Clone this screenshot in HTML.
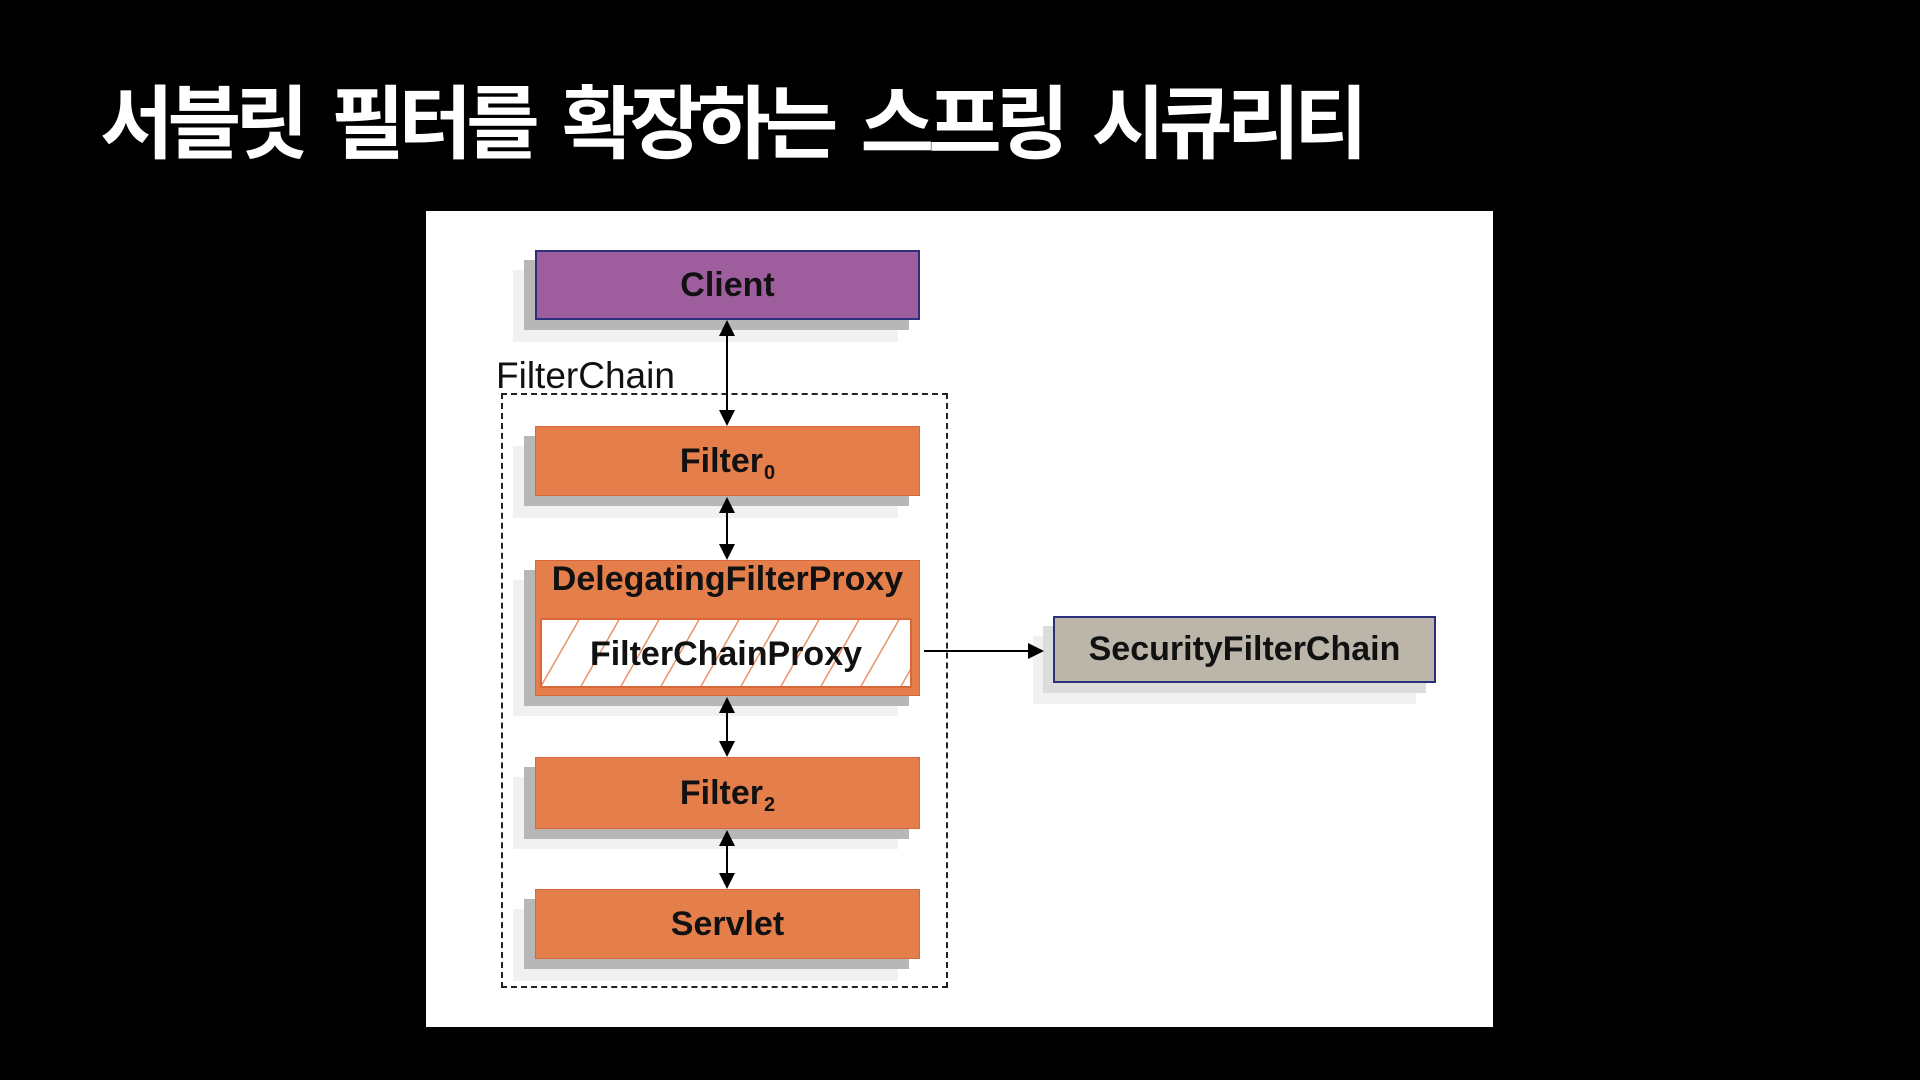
<!DOCTYPE html>
<html><head><meta charset="utf-8"><style>
html,body{margin:0;padding:0;background:#000;width:1920px;height:1080px;overflow:hidden}
.t{position:absolute;left:100px;top:78px;color:#fff;font:bold 80px "Noto Sans CJK KR","NanumGothic",sans-serif;letter-spacing:-6px;word-spacing:16px;white-space:pre;line-height:1}
.panel{position:absolute;left:426px;top:211px;width:1067px;height:816px;background:#fff}
.b{position:absolute;box-sizing:border-box;font:bold 34px "Liberation Sans",sans-serif;color:#111;display:flex;align-items:center;justify-content:center}
.sh1{position:absolute;background:#b7b7b7}
.sh2{position:absolute;background:#f1f1f1}
.o{background:#e47f4b;border:1px solid #d9673a}
.s{font-size:20px;position:relative;top:12px;margin-left:1px}
</style></head><body>
<div class="t">서블릿 필터를 확장하는 스프링 시큐리티</div>
<div class="panel"></div>
<div class="sh2" style="left:513px;top:270px;width:385px;height:72px"></div>
<div class="sh1" style="left:524px;top:260px;width:385px;height:70px"></div>
<div class="sh2" style="left:513px;top:446px;width:385px;height:72px"></div>
<div class="sh1" style="left:524px;top:436px;width:385px;height:70px"></div>
<div class="sh2" style="left:513px;top:580px;width:385px;height:136px"></div>
<div class="sh1" style="left:524px;top:570px;width:385px;height:136px"></div>
<div class="sh2" style="left:513px;top:777px;width:385px;height:72px"></div>
<div class="sh1" style="left:524px;top:767px;width:385px;height:72px"></div>
<div class="sh2" style="left:513px;top:909px;width:385px;height:72px"></div>
<div class="sh1" style="left:524px;top:899px;width:385px;height:70px"></div>
<div class="sh2" style="left:1033px;top:636px;width:383px;height:68px"></div>
<div class="sh1" style="left:1043px;top:626px;width:383px;height:67px;background:#dcdcdc"></div>

<div class="b" style="left:535px;top:250px;width:385px;height:70px;background:#9e5e9e;border:2px solid #2c2f7a">Client</div>
<div style="position:absolute;left:496px;top:355px;font:37px 'Liberation Sans',sans-serif;color:#111">FilterChain</div>
<div style="position:absolute;left:501px;top:393px;width:447px;height:595px;border:2px dashed #222;box-sizing:border-box"></div>
<div class="b o" style="left:535px;top:426px;width:385px;height:70px">Filter<span class="s">0</span></div>
<div class="b o" style="left:535px;top:560px;width:385px;height:136px;align-items:flex-start;line-height:36px;padding-top:0px">DelegatingFilterProxy</div>
<svg style="position:absolute;left:540px;top:618px" width="372" height="70">
<defs><pattern id="h" width="40" height="70" patternUnits="userSpaceOnUse"><line x1="0" y1="70" x2="40" y2="0" stroke="#e8916a" stroke-width="1.5"/></pattern></defs>
<rect x="0" y="0" width="372" height="70" fill="#fff"/><rect x="0" y="0" width="372" height="70" fill="url(#h)"/>
<rect x="1" y="1" width="370" height="68" fill="none" stroke="#d9673a" stroke-width="2"/>
<text x="186" y="47" text-anchor="middle" font-family="Liberation Sans" font-weight="bold" font-size="34" fill="#111">FilterChainProxy</text>
</svg>
<div class="b o" style="left:535px;top:757px;width:385px;height:72px">Filter<span class="s">2</span></div>
<div class="b o" style="left:535px;top:889px;width:385px;height:70px">Servlet</div>
<div class="b" style="left:1053px;top:616px;width:383px;height:67px;background:#bcb6aa;border:2px solid #2c2f7a">SecurityFilterChain</div>
<svg style="position:absolute;left:0;top:0" width="1920" height="1080">
<g stroke="#000" stroke-width="2">
<line x1="727" y1="334" x2="727" y2="412"/>
<line x1="727" y1="510" x2="727" y2="546"/>
<line x1="727" y1="710" x2="727" y2="743"/>
<line x1="727" y1="843" x2="727" y2="875"/>
<line x1="924" y1="651" x2="1030" y2="651"/>
</g>
<g fill="#000">
<polygon points="727,320 719,336 735,336"/><polygon points="727,426 719,410 735,410"/>
<polygon points="727,497 719,513 735,513"/><polygon points="727,560 719,544 735,544"/>
<polygon points="727,697 719,713 735,713"/><polygon points="727,757 719,741 735,741"/>
<polygon points="727,830 719,846 735,846"/><polygon points="727,889 719,873 735,873"/>
<polygon points="1044,651 1028,643 1028,659"/>
</g>
</svg>
</body></html>
